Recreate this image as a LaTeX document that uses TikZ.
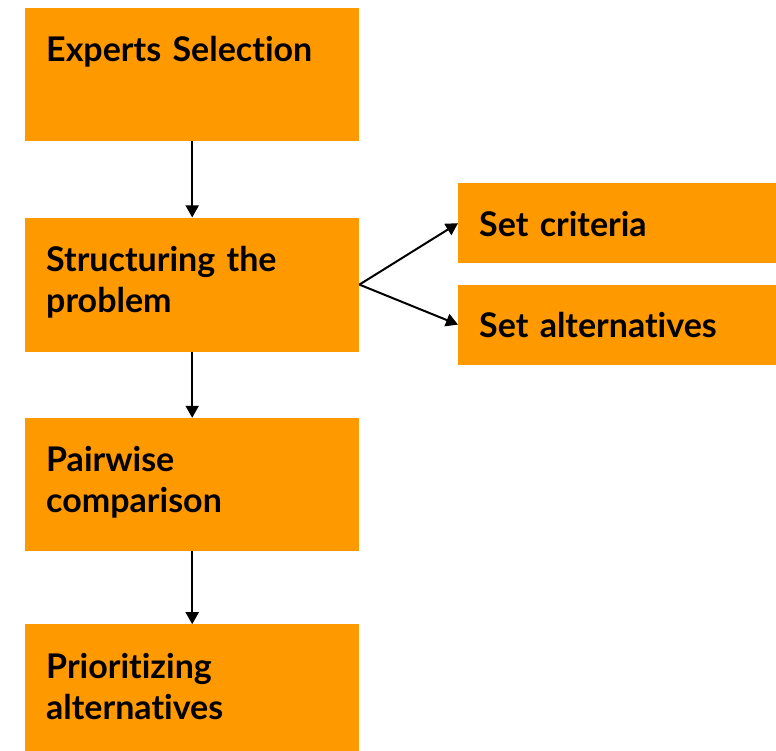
\documentclass[tikz,border=0pt]{standalone}
\usepackage{fontspec}
\setmainfont{Lato}[Ligatures=NoCommon]
\usetikzlibrary{positioning,arrows.meta}
\definecolor{boxorange}{RGB}{255,153,0}

\begin{document}
\begin{tikzpicture}[
    stepbox/.style={fill=boxorange, minimum width=334pt, minimum height=133pt, inner sep=0pt},
    sidebox/.style={fill=boxorange, minimum width=318pt, minimum height=80pt, inner sep=0pt},
    boxtext/.style={anchor=base west, inner sep=0pt, text width=300pt, align=left,
        font=\bfseries\fontsize{34}{41}\selectfont},
    flow/.style={line width=2pt, -{Triangle[length=12pt,width=13pt]}}
]
    \useasboundingbox (0,0) rectangle (776pt,-751pt);

    % Main steps
    \node[stepbox, anchor=north west] (expsel) at (25pt,-8pt) {};
    \node[stepbox, below=76pt of expsel, minimum height=134pt] (structure) {};
    \node[stepbox, below=66pt of structure] (pairwise) {};
    \node[stepbox, below=73pt of pairwise, minimum height=127pt] (priority) {};

    % Side steps
    \node[sidebox, anchor=north west] (criteria) at (458pt,-183pt) {};
    \node[sidebox, below=21pt of criteria] (alternatives) {};

    % Texts
    \node[boxtext] (expsel-t) at ([shift={(21pt,-54pt)}]expsel.north west) {Experts Selection};
    \node[boxtext] (structure-t) at ([shift={(21pt,-54pt)}]structure.north west) {Structuring the\\problem};
    \node[boxtext] (pairwise-t) at ([shift={(21pt,-54pt)}]pairwise.north west) {Pairwise\\comparison};
    \node[boxtext] (priority-t) at ([shift={(21pt,-54pt)}]priority.north west) {Prioritizing\\alternatives};
    \node[boxtext] (criteria-t) at ([shift={(21pt,-13pt)}]criteria.west) {Set criteria};
    \node[boxtext] (alternatives-t) at ([shift={(21pt,-13pt)}]alternatives.west) {Set alternatives};

    % Arrows
    \draw[flow] (expsel) -- (structure);
    \draw[flow] (structure) -- (pairwise);
    \draw[flow] (pairwise) -- (priority);
    \draw[flow] (structure.east) -- (criteria.west);
    \draw[flow] (structure.east) -- (alternatives.west);
\end{tikzpicture}
\end{document}
